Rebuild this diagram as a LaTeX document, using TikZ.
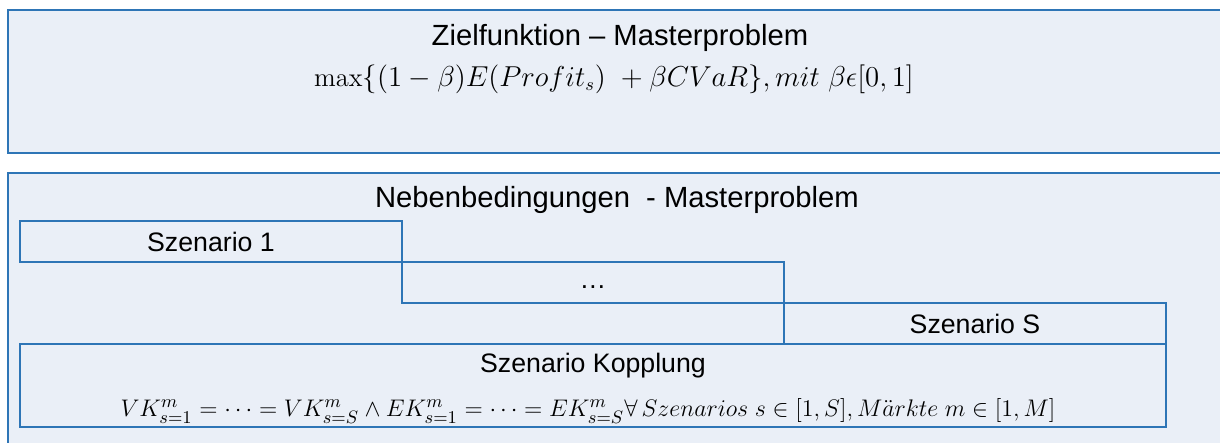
\documentclass[tikz,border=0pt]{standalone}
\usepackage{amsmath}
\usepackage{amssymb}
\usepackage{fontspec}
\newfontfamily\arialfont[Ligatures=TeX]{Liberation Sans}
\definecolor{boxblue}{HTML}{2E75B6}
\definecolor{boxfill}{HTML}{EAEFF7}

\begin{document}
\begin{tikzpicture}[x=0.5pt,y=-0.5pt]
\tikzset{
  outerbox/.style={draw=boxblue, fill=boxfill, line width=1.25pt},
  innerbox/.style={draw=boxblue, line width=0.7pt},
  head/.style={font=\arialfont\fontsize{14.6}{17}\selectfont},
  label/.style={font=\arialfont\fontsize{13.35}{16}\selectfont},
  formula/.style={font=\fontsize{13.3}{16}\selectfont, inner sep=1pt}
}
\useasboundingbox (0,0) rectangle (1220,443);
\clip (0,0) rectangle (1220,443);

% Zielfunktion
\draw[outerbox] (8,10) rectangle (1240,153);
\node[head] (ziel) at (620,38) {Zielfunktion -- Masterproblem};
\node[formula] (zielf) at (614,79)
  {$\max\{(1-\beta)E(Profit_s)\ +\beta CVaR\},mit\ \beta\epsilon[0,1]$};

% Nebenbedingungen
\draw[outerbox] (8,173) rectangle (1240,460);
\node[head] (neben) at (617,200) {Nebenbedingungen\ \ - Masterproblem};

% Szenarien (treppenfoermig)
\draw[innerbox] (20,221) rectangle (402,262);
\node[label] (sz1) at (211,242) {Szenario 1};
\draw[innerbox] (402,262) rectangle (784,303);
\node[label] (szdots) at (593,287) {\dots};
\draw[innerbox] (784,303) rectangle (1166,344);
\node[label] (szS) at (975,324) {Szenario S};

% Kopplung
\draw[innerbox] (20,344) rectangle (1166,427);
\node[label, inner sep=1pt] (kopplung) at (593,366) {Szenario Kopplung};
\node[formula, font=\fontsize{12.2}{14}\selectfont] (kopplungf) at (588,411)
  {$VK^m_{s=1}=\cdots=VK^m_{s=S}\wedge EK^m_{s=1}=\cdots=EK^m_{s=S}\forall\,Szenarios\;s\in[1,S],M\ddot{a}rkte\;m\in[1,M]$};

\end{tikzpicture}
\end{document}
